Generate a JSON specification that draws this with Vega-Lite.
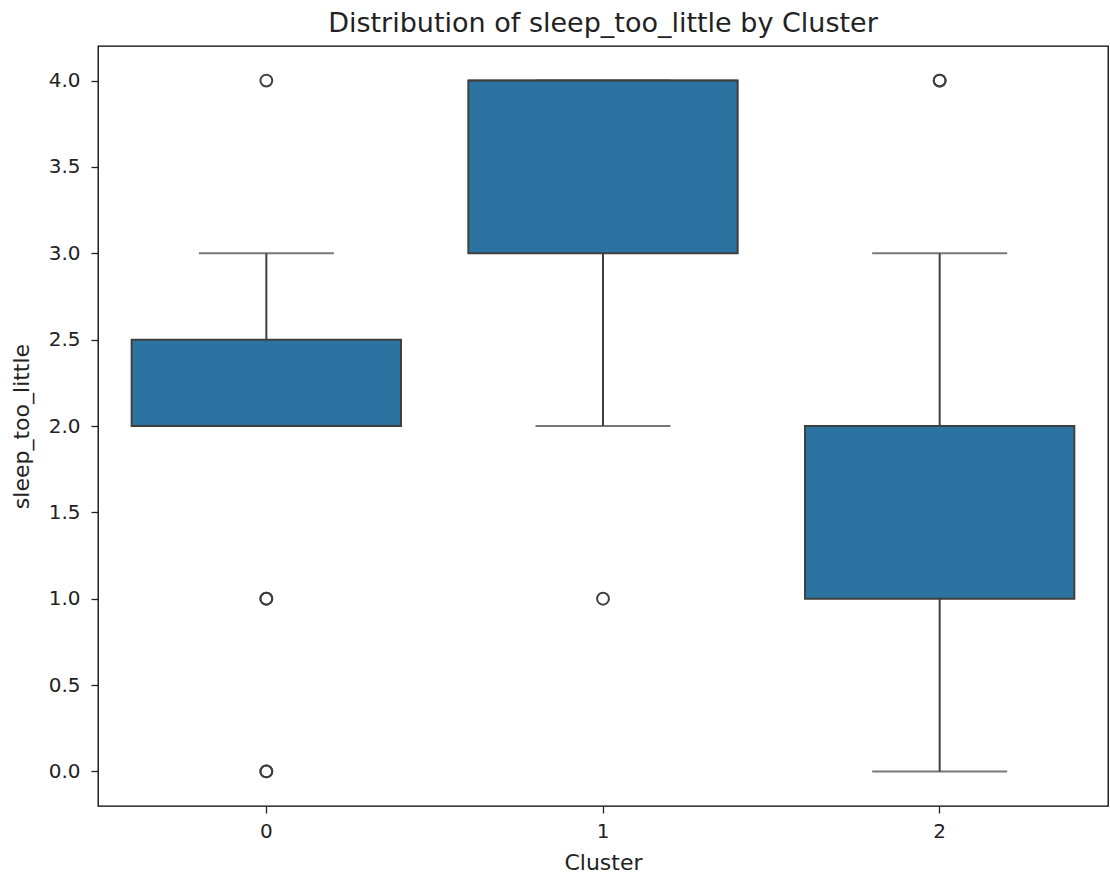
{
  "$schema": "https://vega.github.io/schema/vega-lite/v6.json",
  "autosize": "none",
  "width": 1010,
  "height": 760,
  "padding": {"left": 98, "top": 46, "right": 2, "bottom": 71},
  "background": "white",
  "config": {
    "font": "DejaVu Sans",
    "view": {"stroke": "#000000", "strokeWidth": 1.3},
    "axis": {"grid": false, "domain": false, "tickColor": "#222222", "tickSize": 7, "tickWidth": 1.3, "labelColor": "#222222", "titleColor": "#222222", "labelFontSize": 20, "titleFontSize": 22, "titleFontWeight": "normal", "labelFont": "DejaVu Sans", "titleFont": "DejaVu Sans"}
  },
  "title": {"text": "Distribution of sleep_too_little by Cluster", "fontSize": 27, "fontWeight": "normal", "font": "DejaVu Sans", "color": "#222222", "offset": 8, "anchor": "middle"},
  "datasets": {
    "boxes": [
      {"Cluster": "0", "lower": 2, "q1": 2, "median": 2, "q3": 2.5, "upper": 3},
      {"Cluster": "1", "lower": 2, "q1": 3, "median": 4, "q3": 4, "upper": 4},
      {"Cluster": "2", "lower": 0, "q1": 1, "median": 2, "q3": 2, "upper": 3}
    ],
    "outliers": [
      {"Cluster": "0", "value": 4},
      {"Cluster": "0", "value": 1},
      {"Cluster": "0", "value": 1},
      {"Cluster": "0", "value": 0},
      {"Cluster": "0", "value": 0},
      {"Cluster": "1", "value": 1},
      {"Cluster": "2", "value": 4},
      {"Cluster": "2", "value": 4}
    ]
  },
  "encoding": {
    "x": {"field": "Cluster", "type": "nominal", "sort": ["0", "1", "2"],
      "scale": {"domain": ["0", "1", "2"], "paddingInner": 0, "paddingOuter": 0},
      "axis": {"title": "Cluster", "labelAngle": 0, "labelPadding": 8, "titlePadding": 11, "labelFontSize": 20, "titleFontSize": 22}}
  },
  "layer": [
    {
      "data": {"name": "boxes"},
      "mark": {"type": "rule", "color": "#3f3f3f", "strokeWidth": 2},
      "encoding": {
        "y": {"field": "lower", "type": "quantitative", "scale": {"domain": [-0.2, 4.2], "nice": false, "zero": false},
          "axis": {"title": "sleep_too_little", "values": [0, 0.5, 1, 1.5, 2, 2.5, 3, 3.5, 4], "format": ".1f", "labelPadding": 11, "titlePadding": 15, "labelFontSize": 20, "titleFontSize": 22}},
        "y2": {"field": "upper"}
      }
    },
    {
      "data": {"name": "boxes"},
      "mark": {"type": "tick", "color": "#3f3f3f", "size": 135, "thickness": 2},
      "encoding": {"y": {"field": "lower", "type": "quantitative"}}
    },
    {
      "data": {"name": "boxes"},
      "mark": {"type": "tick", "color": "#3f3f3f", "size": 135, "thickness": 2},
      "encoding": {"y": {"field": "upper", "type": "quantitative"}}
    },
    {
      "data": {"name": "boxes"},
      "mark": {"type": "bar", "fill": "#2b73a0", "stroke": "#3f3f3f", "strokeWidth": 2, "width": {"band": 0.8}},
      "encoding": {
        "y": {"field": "q1", "type": "quantitative"},
        "y2": {"field": "q3"}
      }
    },
    {
      "data": {"name": "boxes"},
      "mark": {"type": "tick", "color": "#3f3f3f", "size": 269, "thickness": 2},
      "encoding": {"y": {"field": "median", "type": "quantitative"}}
    },
    {
      "data": {"name": "outliers"},
      "mark": {"type": "point", "shape": "circle", "filled": false, "stroke": "#3f3f3f", "strokeWidth": 2, "size": 140, "opacity": 1},
      "encoding": {"y": {"field": "value", "type": "quantitative"}}
    }
  ]
}
